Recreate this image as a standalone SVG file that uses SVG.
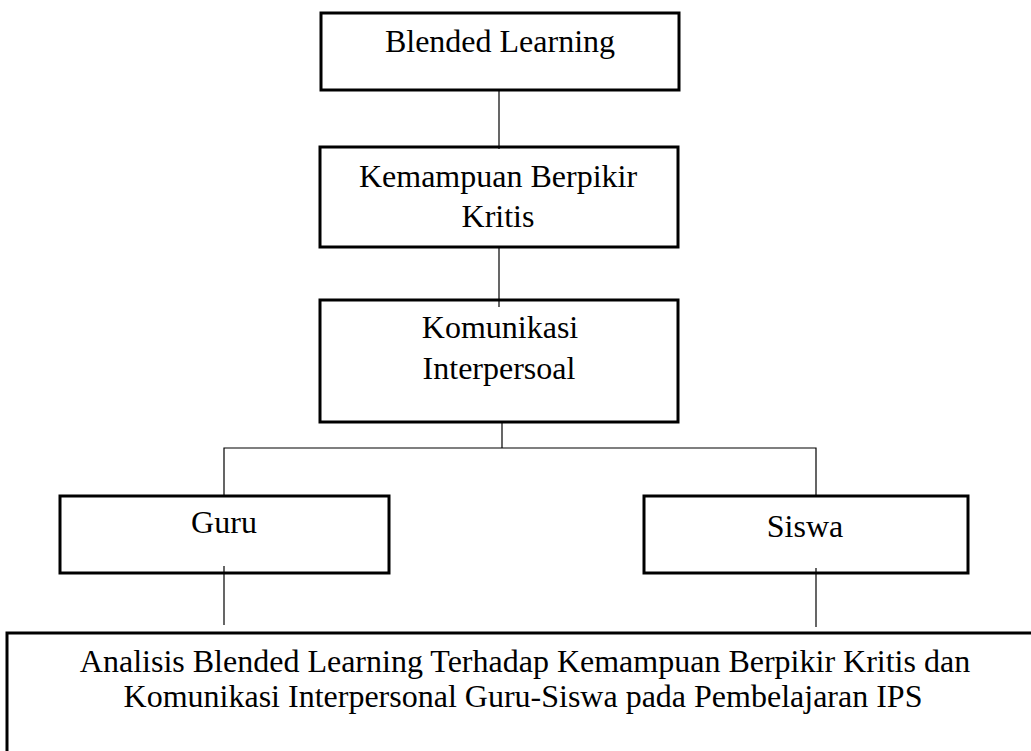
<svg xmlns="http://www.w3.org/2000/svg" width="1031" height="751" viewBox="0 0 1031 751">
<style>
.box{fill:#fff;stroke:#000;stroke-width:3}
.con{stroke:#000;stroke-width:1.2;fill:none}
text{font-family:"Liberation Serif","Times New Roman",serif;font-size:32px;fill:#000;text-anchor:middle}
</style>
<rect width="1031" height="751" fill="#fff"/>
<g id="n1"><rect class="box" x="321" y="13" width="358" height="77"/><text x="500" y="52">Blended Learning</text></g>
<g id="n2"><rect class="box" x="320" y="147" width="358" height="100"/><text x="498" y="187">Kemampuan Berpikir</text><text x="498" y="227">Kritis</text></g>
<g id="n3"><rect class="box" x="320" y="300" width="358" height="122"/><text x="500" y="338">Komunikasi</text><text x="499" y="379">Interpersoal</text></g>
<g id="n4"><rect class="box" x="60" y="496" width="329" height="77"/><text x="224" y="533">Guru</text></g>
<g id="n5"><rect class="box" x="644" y="496" width="324" height="77"/><text x="805" y="537">Siswa</text></g>
<g id="n6"><rect class="box" x="7" y="633" width="1035" height="130"/><text x="525" y="672">Analisis Blended Learning Terhadap Kemampuan Berpikir Kritis dan</text><text x="523" y="707">Komunikasi Interpersonal Guru-Siswa pada Pembelajaran IPS</text></g>
<g id="connectors">
<line class="con" x1="499" y1="90" x2="499" y2="149"/>
<line class="con" x1="499" y1="247" x2="499" y2="307"/>
<line class="con" x1="502" y1="422" x2="502" y2="448"/>
<polyline class="con" points="224,496 224,448 816,448 816,496"/>
<line class="con" x1="224" y1="566" x2="224" y2="625"/>
<line class="con" x1="816" y1="568" x2="816" y2="627"/>
</g>
</svg>
